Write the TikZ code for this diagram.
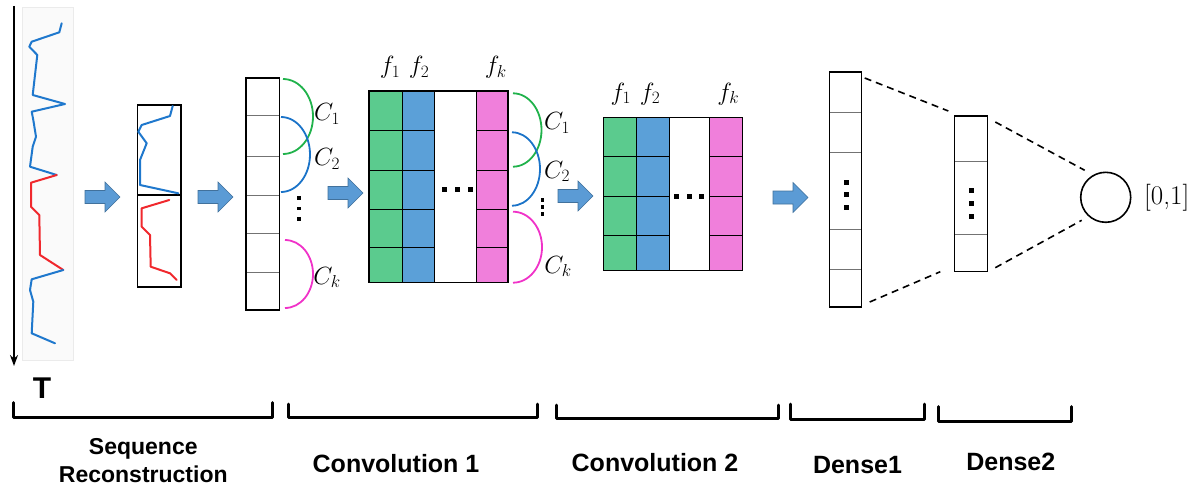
\documentclass[tikz,border=0pt]{standalone}
\usepackage{fontspec}
\newfontfamily\labfont{Liberation Sans}
\usetikzlibrary{calc,arrows.meta}
\definecolor{sigblue}{HTML}{1F78CD}
\definecolor{sigred}{HTML}{F0282D}
\definecolor{arrowfill}{HTML}{5B9BD5}
\definecolor{arrowdraw}{HTML}{41719C}
\definecolor{cgreen}{HTML}{5BCB8E}
\definecolor{cblue}{HTML}{5BA0D8}
\definecolor{cpink}{HTML}{F07FDB}
\definecolor{agreen}{HTML}{20B24B}
\definecolor{ablue}{HTML}{1A73C8}
\definecolor{apink}{HTML}{F032C8}
\begin{document}
\begin{tikzpicture}[x=1pt,y=-1pt,
  boxnode/.style={draw=black, line width=1.2pt, inner sep=0pt, outer sep=0pt, anchor=north west},
  cellline/.style={draw=black!55, line width=0.9pt},
  gridline/.style={draw=black, line width=0.9pt},
  arcline/.style={line width=1.8pt},
  dashline/.style={line width=1.6pt, dash pattern=on 7pt off 5pt},
  sqdot/.style={fill=black, minimum size=5pt, inner sep=0pt, outer sep=0pt},
  smalldot/.style={fill=black, minimum size=3.2pt, inner sep=0pt, outer sep=0pt},
  bracketline/.style={line width=3pt, line join=round, line cap=round},
  stagelabel/.style={font=\labfont\bfseries\fontsize{25}{28}\selectfont, align=center},
  mathlabel/.style={font=\fontsize{27}{30}\selectfont, inner sep=0pt},
  flabel/.style={font=\fontsize{26}{28}\selectfont, inner sep=0pt},
  signal/.style={line width=2pt, line join=round, line cap=round},
  blockarrow/.pic={\filldraw[fill=arrowfill, draw=arrowdraw, line width=0.6pt]
     (0,-6.5) -- (20,-6.5) -- (20,-15) -- (35,0) -- (20,15) -- (20,6.5) -- (0,6.5) -- cycle;}
]
\useasboundingbox (0,0) rectangle (1201,487);

% ---------- input signal ----------
\node[boxnode, draw=black!8, fill=black!2, line width=0.8pt, minimum width=51pt, minimum height=353pt] (sig) at (22,7) {};
\draw[signal, sigblue] (61.7,23.3) -- (59.3,32.3) -- (31.7,41.7) -- (29.3,46.7) -- (37.3,55) -- (32.7,95) -- (65,104) -- (31.7,111.7) -- (33.3,120) -- (36,136.7) -- (32.7,146.7) -- (30,166.7) -- (56.7,175);
\draw[signal, sigred] (56.7,175) -- (31,182.7) -- (31,206.7) -- (39.3,215) -- (40,255) -- (63.3,270);
\draw[signal, sigblue] (63.3,270) -- (31.7,279.3) -- (30,290) -- (33.3,301.7) -- (31.7,333.3) -- (55,343.3);
\coordinate (tstart) at (14,6);
\coordinate (tend) at (14,366);
\draw[line width=2.4pt, -{Stealth[length=11pt,width=8pt]}] (tstart) -- (tend);
\node[font=\labfont\bfseries\fontsize{30}{32}\selectfont, inner sep=0pt] (T) at (42,388) {T};

\pic at (85,197) {blockarrow};

% ---------- split windows ----------
\node[boxnode, minimum width=43.7pt, minimum height=90pt] (wa) at (137.3,105) {};
\node[boxnode, minimum width=43.7pt, minimum height=92pt] (wb) at (137.3,195) {};
\draw[signal, sigblue] (172.7,106) -- (170,116) -- (141.7,125) -- (138.3,131.7) -- (146.7,143.3) -- (140,160) -- (140,185) -- (178.3,193.3);
\draw[signal, sigred] (169.3,200) -- (141.7,208.3) -- (141.7,226.7) -- (150,235) -- (150.7,266.7) -- (170,273.3) -- (176.7,280);

\pic at (198,197) {blockarrow};

% ---------- reconstructed sequence ----------
\foreach \yy in {115,156.7,195,233,272} \draw[cellline] (246,\yy) -- (279.3,\yy);
\node[boxnode, minimum width=33.3pt, minimum height=232pt] (seq) at (246,78) {};
\draw[arcline, agreen] (283,79) arc[start angle=-90, end angle=90, x radius=30, y radius=37.5];
\draw[arcline, ablue] (281,117) arc[start angle=-90, end angle=90, x radius=29, y radius=37.5];
\draw[arcline, apink] (285,240) arc[start angle=-90, end angle=90, x radius=28, y radius=34];
\node[mathlabel] (sc1) at (327,114) {$C_1$};
\node[mathlabel] (sc2) at (327,159) {$C_2$};
\node[mathlabel] (sck) at (327,277.5) {$C_k$};
\node[smalldot] (sd1) at (299,198) {};
\node[smalldot] (sd2) at (299,208.5) {};
\node[smalldot] (sd3) at (299,219) {};

\pic at (328,193) {blockarrow};

% ---------- convolution 1 ----------
\fill[cgreen] (369,91) rectangle (402,282.7);
\fill[cblue] (402,91) rectangle (434.5,282.7);
\fill[white] (434.5,91) rectangle (476,282.7);
\fill[cpink] (476,91) rectangle (508,282.7);
\foreach \yy in {130.7,170,209.3,247.7} {
  \draw[gridline] (369,\yy) -- (434.5,\yy);
  \draw[gridline] (476,\yy) -- (508,\yy);
}
\foreach \xx in {402,434.5,476} \draw[gridline] (\xx,91) -- (\xx,282.7);
\node[boxnode, minimum width=139pt, minimum height=191.7pt] (conv1) at (369,91) {};
\node[sqdot] (cd1) at (444,189.3) {};
\node[sqdot] (cd2) at (457,189.3) {};
\node[sqdot] (cd3) at (470,189.3) {};
\node[flabel] (f11) at (390,67.5) {$f_1$};
\node[flabel] (f12) at (419,67.5) {$f_2$};
\node[flabel] (f1k) at (495.8,67.5) {$f_k$};
\draw[arcline, agreen] (513,93.3) arc[start angle=-90, end angle=90, x radius=28.5, y radius=36.7];
\draw[arcline, ablue] (512,132.3) arc[start angle=-90, end angle=90, x radius=28, y radius=36.7];
\draw[arcline, apink] (513,211.7) arc[start angle=-90, end angle=90, x radius=29, y radius=35.5];
\node[mathlabel] (cc1) at (557,123) {$C_1$};
\node[mathlabel] (cc2) at (557,171.5) {$C_2$};
\node[mathlabel] (cck) at (558,266.5) {$C_k$};
\node[smalldot] (ce1) at (542.7,200) {};
\node[smalldot] (ce2) at (542.7,207) {};
\node[smalldot] (ce3) at (542.7,214) {};

\pic at (558,196) {blockarrow};

% ---------- convolution 2 ----------
\fill[cgreen] (603.3,117.7) rectangle (636.7,270.7);
\fill[cblue] (636.7,117.7) rectangle (669,270.7);
\fill[white] (669,117.7) rectangle (709.7,270.7);
\fill[cpink] (709.7,117.7) rectangle (742.7,270.7);
\foreach \yy in {156.7,196,235} {
  \draw[gridline] (603.3,\yy) -- (669,\yy);
  \draw[gridline] (709.7,\yy) -- (742.7,\yy);
}
\foreach \xx in {636.7,669,709.7} \draw[gridline] (\xx,117.7) -- (\xx,270.7);
\node[boxnode, minimum width=139.4pt, minimum height=153pt] (conv2) at (603.3,117.7) {};
\node[sqdot] (c2d1) at (676.7,196.7) {};
\node[sqdot] (c2d2) at (689,196.7) {};
\node[sqdot] (c2d3) at (701.3,196.7) {};
\node[flabel] (f21) at (620.8,94) {$f_1$};
\node[flabel] (f22) at (650,94) {$f_2$};
\node[flabel] (f2k) at (728.3,94) {$f_k$};

\pic at (773,197.5) {blockarrow};

% ---------- dense 1 ----------
\foreach \yy in {112,152.7,229.3,269} \draw[cellline] (829.3,\yy) -- (861.7,\yy);
\node[boxnode, minimum width=32.4pt, minimum height=235pt] (d1) at (829.3,72) {};
\node[sqdot] (d1a) at (846,182) {};
\node[sqdot] (d1b) at (846,194.7) {};
\node[sqdot] (d1c) at (846,207.3) {};

% ---------- dense 2 ----------
\foreach \yy in {161,234.3} \draw[cellline] (954.3,\yy) -- (987.3,\yy);
\node[boxnode, minimum width=33pt, minimum height=155.7pt] (d2) at (954.3,116) {};
\node[sqdot] (d2a) at (971.7,190.7) {};
\node[sqdot] (d2b) at (971.7,203.3) {};
\node[sqdot] (d2c) at (971.7,216) {};

% ---------- output ----------
\node[draw=black, line width=1.6pt, circle, minimum size=50pt, inner sep=0pt] (out) at (1105.7,197.3) {};
\node[font=\fontsize{27}{30}\selectfont, anchor=west, inner sep=0pt] (range) at (1144,197.3) {[0,1]};

% dashed connections
\draw[dashline] ($(d1.north east)+(3,6)$) -- ($(d2.north west)+(-6,-5)$);
\draw[dashline] ($(d1.south east)+(8,-5)$) -- ($(d2.south west)+(-14,0)$);
\draw[dashline] ($(d2.north east)+(8,6)$) -- ($(out.center)+(-21,-27)$);
\draw[dashline] ($(d2.south east)+(8,-4)$) -- ($(out.center)+(-24,23)$);

% ---------- brackets ----------
\draw[bracketline] (13.3,402.7) -- (13.3,417.7) -- (272.7,417.7) -- (272.7,402.7);
\draw[bracketline] (288.3,404) -- (288.3,417.7) -- (537.7,417.7) -- (537.7,404);
\draw[bracketline] (556,405) -- (556,418) -- (778.3,418) -- (778.3,405);
\draw[bracketline] (790,404) -- (790,419) -- (924,419) -- (924,404);
\draw[bracketline] (938.3,406.7) -- (938.3,421.7) -- (1071.7,421.7) -- (1071.7,406.7);

\node[stagelabel, font=\labfont\bfseries\fontsize{23}{28}\selectfont] (lseq) at (143.3,461) {Sequence\\Reconstruction};
\node[stagelabel] (lc1) at (396,463.3) {Convolution 1};
\node[stagelabel] (lc2) at (655,463) {Convolution 2};
\node[stagelabel] (ld1) at (857.5,465) {Dense1};
\node[stagelabel] (ld2) at (1010.8,461.7) {Dense2};
\end{tikzpicture}
\end{document}
